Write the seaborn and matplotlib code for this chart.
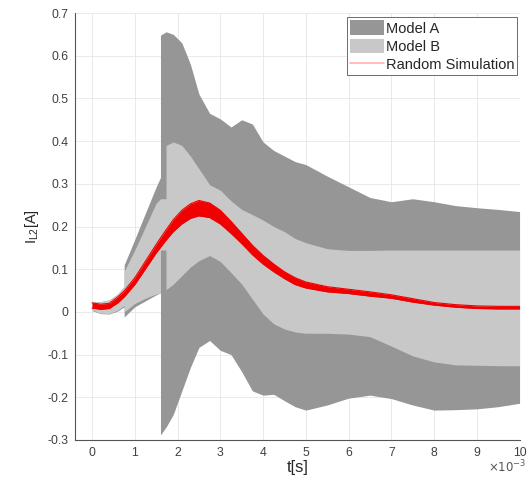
import numpy as np
import matplotlib
matplotlib.use('Agg')
import matplotlib.pyplot as plt
import matplotlib.ticker as mticker
from matplotlib.patches import Patch
from matplotlib.lines import Line2D
import seaborn as sns

# time in ms (repeated values = vertical jumps in the envelopes)
t_ms = [0, 0.2, 0.4, 0.6, 0.75, 0.75, 1.0, 1.25, 1.5, 1.6, 1.6, 1.73, 1.73, 1.9, 2.1, 2.3,
        2.5, 2.75, 3.0, 3.25, 3.5, 3.75, 4.0, 4.25, 4.5, 4.75, 5.0, 5.5, 6.0, 6.5, 7.0, 7.5,
        8.0, 8.5, 9.0, 9.5, 10.0]

# Model A envelope (dark grey)
a_hi = [0.024, 0.024, 0.028, 0.042, 0.060, 0.110, 0.170, 0.232, 0.293, 0.315, 0.648, 0.656,
        0.656, 0.650, 0.630, 0.580, 0.510, 0.465, 0.452, 0.433, 0.450, 0.440, 0.398, 0.378,
        0.365, 0.352, 0.345, 0.318, 0.293, 0.268, 0.258, 0.265, 0.258, 0.249, 0.244, 0.240, 0.235]
a_lo = [0.003, -0.004, -0.005, 0.002, 0.012, -0.012, 0.012, 0.026, 0.040, 0.045, -0.288, -0.270,
        -0.270, -0.240, -0.185, -0.130, -0.083, -0.067, -0.090, -0.100, -0.140, -0.185, -0.195,
        -0.193, -0.208, -0.222, -0.230, -0.218, -0.202, -0.195, -0.203, -0.218, -0.230, -0.229,
        -0.227, -0.222, -0.214]

# Model B envelope (light grey)
b_hi = [0.024, 0.024, 0.028, 0.042, 0.060, 0.095, 0.145, 0.200, 0.255, 0.265, 0.265, 0.265,
        0.390, 0.398, 0.390, 0.365, 0.335, 0.298, 0.285, 0.260, 0.240, 0.228, 0.215, 0.200,
        0.188, 0.172, 0.162, 0.148, 0.144, 0.144, 0.145, 0.145, 0.145, 0.145, 0.145, 0.145, 0.145]
b_lo = [0.005, -0.003, -0.004, 0.004, 0.015, 0.000, 0.020, 0.032, 0.042, 0.045, 0.145, 0.145,
        0.052, 0.065, 0.085, 0.105, 0.120, 0.132, 0.118, 0.092, 0.065, 0.030, -0.005, -0.028,
        -0.040, -0.047, -0.050, -0.050, -0.052, -0.058, -0.080, -0.103, -0.117, -0.124, -0.125,
        -0.126, -0.126]

# Random simulation band (red)
sim_hi = [0.021, 0.018, 0.020, 0.035, 0.049, 0.049, 0.080, 0.119, 0.158, 0.173, 0.173, 0.192,
          0.192, 0.216, 0.238, 0.253, 0.261, 0.255, 0.238, 0.212, 0.184, 0.156, 0.132, 0.112,
          0.094, 0.080, 0.070, 0.059, 0.053, 0.047, 0.040, 0.031, 0.022, 0.017, 0.014, 0.013, 0.013]
sim_lo = [0.009, 0.006, 0.008, 0.021, 0.035, 0.035, 0.064, 0.101, 0.138, 0.151, 0.151, 0.168,
          0.168, 0.188, 0.206, 0.219, 0.225, 0.221, 0.206, 0.184, 0.160, 0.134, 0.112, 0.094,
          0.078, 0.064, 0.056, 0.047, 0.043, 0.037, 0.032, 0.023, 0.016, 0.011, 0.008, 0.007, 0.007]

labels = ['Model A', 'Model B', 'Random Simulation']

sns.set_style('white')
plt.rcParams['font.family'] = ['Liberation Sans', 'DejaVu Sans']

t = np.array(t_ms) * 1e-3

fig, ax = plt.subplots(figsize=(5.28, 4.78), dpi=100)
fig.subplots_adjust(left=0.142, right=0.984, bottom=0.0795, top=0.9728)

ax.fill_between(t, a_lo, a_hi, color='#969696', lw=0)
ax.fill_between(t, b_lo, b_hi, color='#c8c8c8', lw=0)
ax.fill_between(t, sim_lo, sim_hi, color='#f00000', lw=0)
sns.lineplot(x=t, y=sim_hi, estimator=None, sort=False, color='#f00000', lw=0.8, ax=ax)
sns.lineplot(x=t, y=sim_lo, estimator=None, sort=False, color='#f00000', lw=0.8, ax=ax)

ax.set_xlim(-0.0004, 0.01)
ax.set_ylim(-0.3, 0.7)
ax.set_xticks(np.arange(0, 11) * 1e-3)
ax.set_yticks(np.round(np.arange(-0.3, 0.71, 0.1), 1))
ax.yaxis.set_major_formatter(mticker.FuncFormatter(lambda v, p: f'{v:g}'))
ax.xaxis.set_major_formatter(mticker.FuncFormatter(lambda v, p: f'{v * 1e3:g}'))
fig.text(0.997, 0.022, r'$\times10^{-3}$', ha='right', va='center', fontsize=8.5,
         color='#555555')

ax.grid(True, color='#e6e6e6', lw=0.6)
ax.set_axisbelow(True)
for s in ['top', 'right']:
    ax.spines[s].set_visible(False)
for s in ['left', 'bottom']:
    ax.spines[s].set_color('#555555')
    ax.spines[s].set_linewidth(0.8)
ax.tick_params(direction='in', length=3, width=0.6, colors='#555555', labelsize=8.8,
               labelcolor='#404040', pad=5)

ax.set_xlabel('t[s]', fontsize=12, labelpad=1)
ax.set_ylabel('I$_{\\mathregular{L2}}$[A]', fontsize=10.5, labelpad=4)

handles = [Patch(facecolor='#969696', edgecolor='none'),
           Patch(facecolor='#c8c8c8', edgecolor='none'),
           Line2D([], [], color='#ffb0b0', lw=1.2)]
leg = ax.legend(handles, labels, loc='upper right', bbox_to_anchor=(0.995, 0.99),
                fontsize=10.5, frameon=True, fancybox=False, framealpha=1,
                handlelength=2.3, handleheight=1.2, handletextpad=0.15,
                labelspacing=0.2, borderpad=0.2, borderaxespad=0)
leg.get_frame().set_edgecolor('#555555')
leg.get_frame().set_linewidth(0.6)

fig.savefig('out.png', dpi=100)
